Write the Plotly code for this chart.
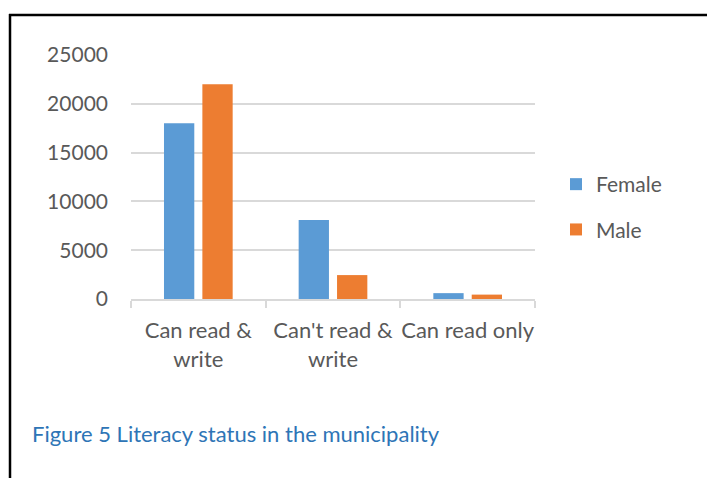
import plotly.graph_objects as go

# Literacy status by sex
categories = ["Can read &<br>write", "Can't read &<br>write", "Can read only"]
female = [18000, 8100, 600]
male = [22000, 2450, 450]
y_ticks = [0, 5000, 10000, 15000, 20000, 25000]

FONT = "Lato"
TEXT_GREY = "#595959"
GRID = "#D9D9D9"

fig = go.Figure()
fig.add_trace(go.Bar(
    name="Female", x=categories, y=female,
    marker=dict(color="#5B9BD5", line=dict(width=0)),
    width=0.225, offset=-0.255, legendgroup="f",
))
fig.add_trace(go.Bar(
    name="Male", x=categories, y=male,
    marker=dict(color="#ED7D31", line=dict(width=0)),
    width=0.225, offset=0.03, legendgroup="m",
))

# plot area in pixels: x 131..535, y 55..299
L, R, T, B = 131, 172, 55, 179
W, H = 707, 478
pw, ph = W - L - R, H - T - B


def px_x(p):
    return (p - L) / pw


def px_y(p):
    return (H - B - p) / ph


fig.update_layout(
    width=W, height=H,
    margin=dict(l=L, r=R, t=T, b=B),
    paper_bgcolor="white", plot_bgcolor="white",
    font=dict(family=FONT, size=21, color=TEXT_GREY),
    showlegend=True,
    legend=dict(
        x=px_x(556), y=px_y(164), xanchor="left", yanchor="top",
        font=dict(family=FONT, size=21, color=TEXT_GREY),
        tracegroupgap=15, bgcolor="rgba(0,0,0,0)",
    ),
    xaxis=dict(
        type="category", showgrid=False,
        showline=True, linecolor=GRID, linewidth=1.5,
        ticks="outside", tickson="boundaries", ticklen=7, tickcolor=GRID, tickwidth=1.5,
        tickfont=dict(family=FONT, size=22, color=TEXT_GREY),
        tickangle=0,
        ticklabelstandoff=11,
        range=[-0.5, 2.5],
    ),
    yaxis=dict(
        range=[0, 25000], tickvals=y_ticks, ticktext=[str(v) for v in y_ticks],
        showgrid=True, gridcolor=GRID, gridwidth=1.5,
        zeroline=False, showline=False, ticks="",
        tickfont=dict(family=FONT, size=21, color=TEXT_GREY),
        ticklabelstandoff=22,
    ),
    shapes=[
        # frame: top rule and left rule
        dict(type="line", xref="paper", yref="paper",
             x0=px_x(9), x1=px_x(707), y0=px_y(15), y1=px_y(15),
             line=dict(color="black", width=2.5)),
        dict(type="line", xref="paper", yref="paper",
             x0=px_x(10), x1=px_x(10), y0=px_y(14), y1=px_y(478),
             line=dict(color="black", width=2.5)),
    ],
    annotations=[
        dict(text="Figure 5 Literacy status in the municipality",
             xref="paper", yref="paper", x=px_x(30), y=px_y(433),
             xanchor="left", yanchor="middle", showarrow=False,
             font=dict(family=FONT, size=22, color="#2E75B6")),
    ],
)

fig.write_html("out.html")
